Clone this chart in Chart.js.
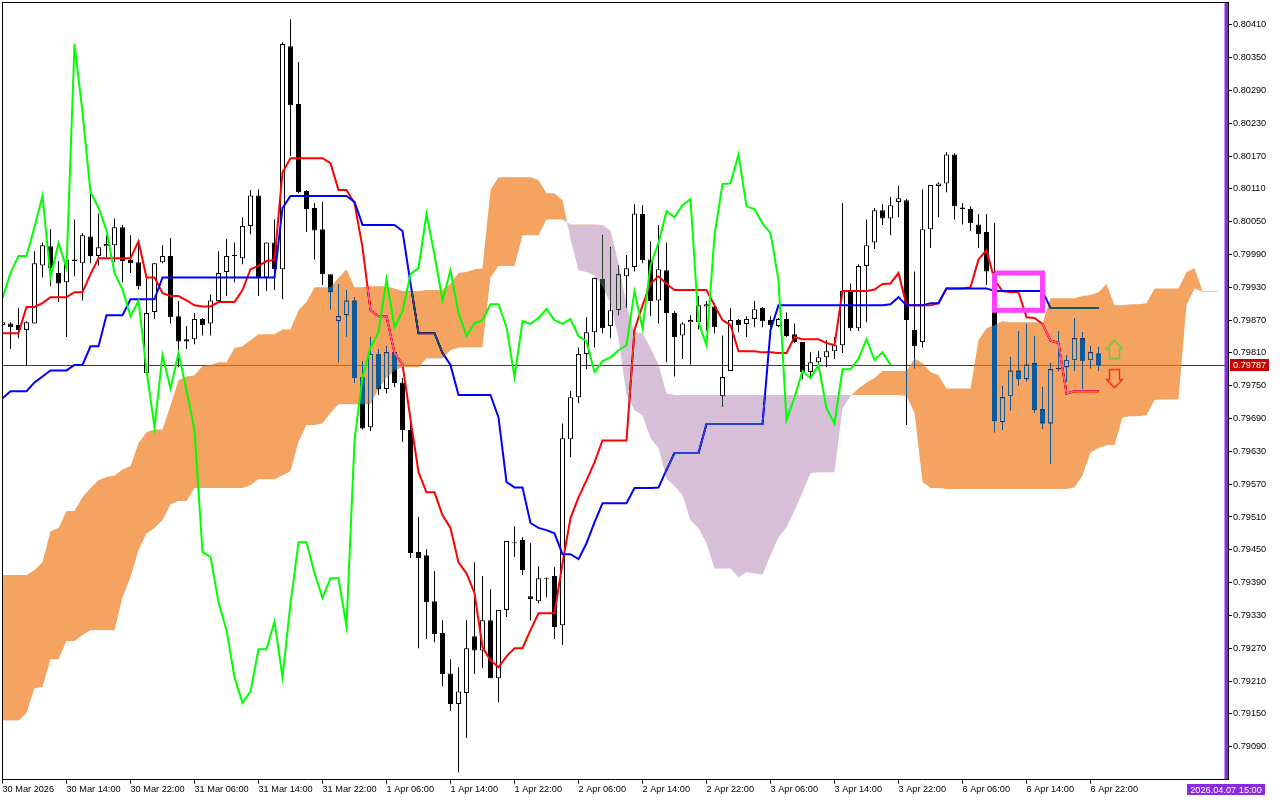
<!DOCTYPE html>
<html>
<head>
<meta charset="utf-8">
<title>Ichimoku chart</title>
<style>
html, body { margin: 0; padding: 0; background: #fff; }
canvas { display: block; }
</style>
<script src="https://cdn.jsdelivr.net/npm/chart.js@4"></script>
</head>
<body>
<canvas id="myChart" width="1280" height="800"></canvas>
<script>
// one label every 8 hourly bars
const xTickLabels = ["30 Mar 2026","30 Mar 14:00","30 Mar 22:00","31 Mar 06:00","31 Mar 14:00","31 Mar 22:00","1 Apr 06:00","1 Apr 14:00","1 Apr 22:00","2 Apr 06:00","2 Apr 14:00","2 Apr 22:00","3 Apr 06:00","3 Apr 14:00","3 Apr 22:00","6 Apr 06:00","6 Apr 14:00","6 Apr 22:00"];
const yTickLabels = ["0.79090","0.79150","0.79210","0.79270","0.79330","0.79390","0.79450","0.79510","0.79570","0.79630","0.79690","0.79750","0.79810","0.79870","0.79930","0.79990","0.80050","0.80110","0.80170","0.80230","0.80290","0.80350","0.80410"];

const opens = [
0.79861,0.79864,0.79861,0.79852,0.79864,0.79970,0.80005,0.79956,0.79939,0.79981,
0.79974,0.80023,0.79987,0.80005,0.80007,0.80040,0.79980,0.79976,0.79773,0.79885,
0.79976,0.79987,0.79877,0.79835,0.79835,0.79872,0.79864,0.79905,0.79958,0.79989,
0.79983,0.80042,0.80098,0.79948,0.80012,0.79963,0.80371,0.80265,0.80106,0.80075,
0.80036,0.79954,0.79868,0.79879,0.79906,0.79766,0.79674,0.79808,0.79744,0.79811,
0.79756,0.79669,0.79446,0.79440,0.79356,0.79298,0.79224,0.79168,0.79188,0.79292,
0.79266,0.79321,0.79215,0.79340,0.79462,0.79468,0.79365,0.79356,0.79398,0.79402,
0.79312,0.79652,0.79729,0.79808,0.79848,0.79945,0.79859,0.79888,0.79950,0.79967,
0.80064,0.79981,0.79906,0.79961,0.79883,0.79842,0.79866,0.79866,0.79895,0.79895,
0.79731,0.79777,0.79870,0.79863,0.79872,0.79892,0.79870,0.79859,0.79872,0.79844,
0.79830,0.79775,0.79793,0.79802,0.79813,0.79824,0.79923,0.79855,0.79969,0.80012,
0.80071,0.80056,0.80086,0.80089,0.79852,0.79830,0.80036,0.80115,0.80120,0.80173,
0.80076,0.80073,0.80045,0.80031,0.79959,0.79683,0.79731,0.79778,0.79762,0.79791,
0.79707,0.79681,0.79782,0.79784,0.79797,0.79837,0.79797,0.79809];
const highs = [
0.79866,0.79866,0.79892,0.79868,0.79996,0.80012,0.80036,0.79978,0.79981,0.80054,
0.80029,0.80102,0.80065,0.80025,0.80056,0.80044,0.80025,0.80016,0.79950,0.79974,
0.80007,0.80020,0.79905,0.79859,0.79883,0.79874,0.79917,0.79996,0.80018,0.80012,
0.80058,0.80108,0.80109,0.80012,0.80054,0.80378,0.80420,0.80342,0.80108,0.80084,
0.80086,0.79954,0.79936,0.79925,0.79912,0.79795,0.79839,0.79817,0.79822,0.79811,
0.79764,0.79696,0.79510,0.79451,0.79411,0.79321,0.79250,0.79235,0.79321,0.79427,
0.79402,0.79378,0.79340,0.79466,0.79493,0.79473,0.79462,0.79420,0.79400,0.79418,
0.79681,0.79740,0.79820,0.79875,0.79948,0.80025,0.80003,0.79970,0.79989,0.80082,
0.80080,0.80014,0.80044,0.80012,0.79886,0.79866,0.79879,0.79914,0.79905,0.79901,
0.79842,0.79892,0.79872,0.79877,0.79905,0.79894,0.79877,0.79874,0.79884,0.79864,
0.79830,0.79811,0.79813,0.79833,0.79839,0.80084,0.79937,0.79972,0.80054,0.80075,
0.80082,0.80095,0.80115,0.80091,0.79959,0.80109,0.80117,0.80122,0.80177,0.80175,
0.80084,0.80078,0.80064,0.80064,0.80047,0.79749,0.79802,0.79850,0.79863,0.79841,
0.79747,0.79791,0.79850,0.79806,0.79874,0.79848,0.79822,0.79820];
const lows = [
0.79861,0.79817,0.79837,0.79786,0.79864,0.79948,0.79932,0.79903,0.79839,0.79950,
0.79906,0.79974,0.79970,0.79985,0.79976,0.79939,0.79956,0.79926,0.79771,0.79872,
0.79974,0.79864,0.79784,0.79817,0.79826,0.79842,0.79842,0.79903,0.79914,0.79939,
0.79972,0.80027,0.79914,0.79923,0.79925,0.79908,0.80170,0.80102,0.80031,0.79981,
0.79934,0.79890,0.79793,0.79839,0.79755,0.79670,0.79667,0.79733,0.79736,0.79747,
0.79647,0.79435,0.79270,0.79287,0.79281,0.79201,0.79155,0.79043,0.79106,0.79223,
0.79234,0.79215,0.79171,0.79327,0.79437,0.79404,0.79321,0.79352,0.79363,0.79287,
0.79276,0.79619,0.79718,0.79780,0.79820,0.79846,0.79837,0.79879,0.79892,0.79959,
0.79974,0.79877,0.79864,0.79793,0.79767,0.79799,0.79789,0.79853,0.79850,0.79846,
0.79711,0.79777,0.79848,0.79839,0.79857,0.79857,0.79857,0.79857,0.79839,0.79828,
0.79762,0.79766,0.79782,0.79784,0.79799,0.79810,0.79850,0.79850,0.79866,0.80000,
0.80044,0.80025,0.80058,0.79678,0.79782,0.79820,0.80002,0.80058,0.80104,0.80054,
0.80045,0.80033,0.80002,0.79934,0.79665,0.79669,0.79705,0.79751,0.79758,0.79700,
0.79672,0.79608,0.79778,0.79758,0.79777,0.79744,0.79782,0.79778];
const closes = [
0.79866,0.79857,0.79852,0.79866,0.79974,0.80007,0.79965,0.79937,0.79981,0.79978,
0.80025,0.79987,0.80003,0.80009,0.80040,0.79978,0.79974,0.79932,0.79883,0.79974,
0.79987,0.79875,0.79831,0.79831,0.79872,0.79861,0.79906,0.79956,0.79987,0.79987,
0.80042,0.80098,0.79948,0.80012,0.79963,0.80375,0.80263,0.80104,0.80073,0.80034,
0.79954,0.79921,0.79877,0.79906,0.79764,0.79672,0.79808,0.79744,0.79811,0.79755,
0.79669,0.79444,0.79435,0.79354,0.79296,0.79223,0.79168,0.79191,0.79270,0.79266,
0.79321,0.79215,0.79340,0.79466,0.79464,0.79413,0.79360,0.79398,0.79396,0.79309,
0.79654,0.79729,0.79808,0.79848,0.79947,0.79855,0.79888,0.79954,0.79965,0.80065,
0.79980,0.79905,0.79963,0.79883,0.79839,0.79864,0.79870,0.79897,0.79899,0.79857,
0.79766,0.79870,0.79861,0.79872,0.79890,0.79868,0.79861,0.79872,0.79841,0.79830,
0.79775,0.79793,0.79802,0.79813,0.79824,0.79923,0.79855,0.79969,0.80007,0.80071,
0.80056,0.80080,0.80093,0.79870,0.79822,0.80036,0.80117,0.80120,0.80173,0.80078,
0.80073,0.80047,0.80027,0.79959,0.79685,0.79729,0.79778,0.79762,0.79789,0.79705,
0.79681,0.79780,0.79780,0.79797,0.79837,0.79795,0.79811,0.79787];

const tenkan = [
0.79846,0.79846,0.79846,0.79894,0.79894,0.79901,0.79912,0.79912,0.79912,0.79921,
0.79921,0.79954,0.79983,0.79983,0.79983,0.79983,0.79983,0.80014,0.79948,0.79948,
0.79919,0.79914,0.79914,0.79906,0.79897,0.79895,0.79895,0.79903,0.79903,0.79903,
0.79925,0.79963,0.79969,0.79978,0.79980,0.80140,0.80166,0.80166,0.80166,0.80166,
0.80166,0.80157,0.80108,0.80108,0.80084,0.80003,0.79888,0.79877,0.79877,0.79810,
0.79789,0.79689,0.79592,0.79555,0.79555,0.79513,0.79490,0.79427,0.79407,0.79371,
0.79272,0.79248,0.79235,0.79255,0.79270,0.79270,0.79303,0.79334,0.79334,0.79334,
0.79425,0.79508,0.79546,0.79577,0.79610,0.79650,0.79650,0.79650,0.79650,0.79852,
0.79897,0.79937,0.79950,0.79936,0.79925,0.79925,0.79925,0.79925,0.79925,0.79897,
0.79870,0.79861,0.79813,0.79813,0.79813,0.79811,0.79811,0.79810,0.79810,0.79839,
0.79835,0.79835,0.79835,0.79828,0.79824,0.79923,0.79923,0.79923,0.79923,0.79926,
0.79936,0.79937,0.79956,0.79897,0.79897,0.79897,0.79897,0.79901,0.79928,0.79928,
0.79928,0.79930,0.79981,0.79998,0.79943,0.79923,0.79921,0.79921,0.79875,0.79874,
0.79863,0.79833,0.79828,0.79736,0.79740,0.79740,0.79740,0.79740];
const kijun = [
0.79727,0.79740,0.79740,0.79740,0.79756,0.79767,0.79778,0.79778,0.79778,0.79788,
0.79788,0.79822,0.79822,0.79879,0.79879,0.79879,0.79908,0.79908,0.79908,0.79908,
0.79948,0.79948,0.79948,0.79948,0.79948,0.79948,0.79948,0.79948,0.79948,0.79948,
0.79948,0.79948,0.79948,0.79948,0.79948,0.80075,0.80097,0.80097,0.80097,0.80097,
0.80097,0.80097,0.80097,0.80097,0.80086,0.80044,0.80044,0.80044,0.80044,0.80044,
0.80033,0.79937,0.79846,0.79846,0.79846,0.79810,0.79788,0.79733,0.79733,0.79733,
0.79733,0.79733,0.79692,0.79574,0.79564,0.79564,0.79499,0.79490,0.79486,0.79480,
0.79442,0.79442,0.79433,0.79462,0.79500,0.79535,0.79535,0.79535,0.79535,0.79563,
0.79563,0.79563,0.79564,0.79596,0.79627,0.79627,0.79627,0.79627,0.79680,0.79680,
0.79680,0.79680,0.79680,0.79680,0.79680,0.79680,0.79852,0.79897,0.79897,0.79897,
0.79897,0.79897,0.79897,0.79897,0.79897,0.79897,0.79897,0.79897,0.79897,0.79897,
0.79897,0.79899,0.79912,0.79897,0.79897,0.79897,0.79901,0.79901,0.79928,0.79928,
0.79928,0.79928,0.79928,0.79928,0.79923,0.79923,0.79923,0.79923,0.79923,0.79923,
0.79923,0.79892,0.79892,0.79892,0.79892,0.79892,0.79892,0.79892];
const chikou = [
0.79910,0.79956,0.79987,0.79987,0.80040,0.80097,0.79948,0.80011,0.79965,0.80375,
0.80250,0.80104,0.80076,0.80034,0.79956,0.79926,0.79877,0.79905,0.79778,0.79674,
0.79806,0.79745,0.79810,0.79742,0.79669,0.79446,0.79437,0.79354,0.79303,0.79217,
0.79170,0.79191,0.79268,0.79268,0.79319,0.79217,0.79352,0.79464,0.79464,0.79407,
0.79362,0.79398,0.79398,0.79310,0.79650,0.79766,0.79820,0.79848,0.79945,0.79857,
0.79886,0.79954,0.79965,0.80064,0.79989,0.79906,0.79961,0.79883,0.79841,0.79864,
0.79870,0.79899,0.79899,0.79857,0.79766,0.79868,0.79863,0.79874,0.79890,0.79870,
0.79863,0.79872,0.79841,0.79831,0.79775,0.79795,0.79802,0.79815,0.79824,0.79923,
0.79855,0.79970,0.80011,0.80069,0.80058,0.80080,0.80091,0.79866,0.79824,0.80025,
0.80119,0.80120,0.80173,0.80078,0.80073,0.80047,0.80029,0.79943,0.79687,0.79729,
0.79777,0.79764,0.79788,0.79709,0.79681,0.79780,0.79780,0.79799,0.79835,0.79797,
0.79811,0.79788];
const senkouA = [
0.79404,0.79404,0.79404,0.79404,0.79413,0.79427,0.79484,0.79490,0.79521,0.79521,
0.79546,0.79563,0.79577,0.79583,0.79586,0.79597,0.79603,0.79645,0.79665,0.79670,
0.79670,0.79714,0.79760,0.79767,0.79769,0.79786,0.79788,0.79793,0.79793,0.79819,
0.79822,0.79833,0.79844,0.79844,0.79844,0.79853,0.79853,0.79888,0.79903,0.79930,
0.79930,0.79930,0.79947,0.79963,0.79930,0.79930,0.79932,0.79932,0.79932,0.79928,
0.79923,0.79923,0.79923,0.79925,0.79925,0.79925,0.79937,0.79956,0.79958,0.79963,
0.79965,0.80108,0.80131,0.80131,0.80131,0.80131,0.80131,0.80126,0.80102,0.80102,
0.80089,0.80018,0.79961,0.79958,0.79952,0.79932,0.79901,0.79837,0.79733,0.79705,
0.79696,0.79654,0.79636,0.79581,0.79566,0.79550,0.79504,0.79490,0.79462,0.79416,
0.79416,0.79416,0.79400,0.79409,0.79407,0.79405,0.79440,0.79473,0.79491,0.79522,
0.79555,0.79590,0.79592,0.79592,0.79592,0.79709,0.79731,0.79745,0.79756,0.79764,
0.79777,0.79777,0.79777,0.79777,0.79800,0.79791,0.79775,0.79769,0.79745,0.79745,
0.79745,0.79745,0.79833,0.79855,0.79861,0.79868,0.79866,0.79866,0.79866,0.79866,
0.79864,0.79910,0.79910,0.79910,0.79910,0.79914,0.79916,0.79921,0.79936,0.79897,
0.79897,0.79899,0.79899,0.79901,0.79928,0.79928,0.79928,0.79928,0.79958,0.79965,
0.79923,0.79923,0.79923];
const senkouB = [
0.79138,0.79138,0.79138,0.79151,0.79197,0.79199,0.79250,0.79250,0.79283,0.79283,
0.79294,0.79303,0.79303,0.79303,0.79303,0.79363,0.79400,0.79449,0.79480,0.79490,
0.79504,0.79533,0.79539,0.79539,0.79563,0.79563,0.79563,0.79563,0.79563,0.79563,
0.79563,0.79568,0.79579,0.79579,0.79579,0.79586,0.79594,0.79647,0.79678,0.79678,
0.79681,0.79700,0.79716,0.79716,0.79716,0.79716,0.79716,0.79745,0.79764,0.79778,
0.79784,0.79784,0.79784,0.79800,0.79800,0.79800,0.79815,0.79820,0.79820,0.79820,
0.79820,0.79948,0.79969,0.79969,0.79969,0.80025,0.80025,0.80025,0.80054,0.80054,
0.80054,0.80045,0.80045,0.80045,0.80045,0.80044,0.80034,0.79974,0.79897,0.79848,
0.79846,0.79819,0.79788,0.79736,0.79733,0.79733,0.79733,0.79733,0.79733,0.79733,
0.79733,0.79733,0.79733,0.79733,0.79733,0.79733,0.79733,0.79733,0.79733,0.79733,
0.79733,0.79733,0.79733,0.79733,0.79733,0.79733,0.79733,0.79733,0.79733,0.79733,
0.79733,0.79733,0.79733,0.79731,0.79700,0.79574,0.79563,0.79563,0.79561,0.79561,
0.79561,0.79561,0.79561,0.79561,0.79561,0.79561,0.79561,0.79561,0.79561,0.79561,
0.79561,0.79561,0.79561,0.79561,0.79564,0.79586,0.79628,0.79636,0.79641,0.79641,
0.79692,0.79694,0.79694,0.79696,0.79724,0.79725,0.79725,0.79725,0.79897,0.79928,
0.79922,0.79922,0.79922];

const currentPrice = 0.79787;
const currentLabel = "0.79787";
const markerBar = 153;
const markerLabel = "2026.04.07 15:00";
const boxBars = [124, 130];
const boxPrices = [0.79956, 0.79888];
const arrowBar = 139;
const arrowUpPrice = 0.79816;
const arrowDownPrice = 0.79763;

const yMin = 0.7902994;
const yMax = 0.8045078;
const xMax = 153.1875;
const tickFont = { family: "'Liberation Sans', sans-serif", size: 9.2 };

function series(values) {
    return values.map((v, i) => ({ x: i, y: v }));
}

function lineSet(label, values, color, order) {
    return { type: 'line', label: label, data: series(values), borderColor: color, borderWidth: 2,
        pointRadius: 0, tension: 0, fill: false, order: order };
}

function makeArrow(up, color) {
    const c = document.createElement('canvas');
    c.width = 19;
    c.height = 21;
    const g = c.getContext('2d');
    if (!up) {
        g.translate(0, 21);
        g.scale(1, -1);
    }
    g.strokeStyle = color;
    g.lineWidth = 1.4;
    g.beginPath();
    g.moveTo(9.5, 1.5);
    g.lineTo(17.5, 9.5);
    g.lineTo(14.5, 9.5);
    g.lineTo(14.5, 19.5);
    g.lineTo(4.5, 19.5);
    g.lineTo(4.5, 9.5);
    g.lineTo(1.5, 9.5);
    g.closePath();
    g.stroke();
    return c;
}

const wicks = { type: 'bar', label: 'wicks', data: highs.map((h, i) => ({ x: i, y: [lows[i], h] })),
    backgroundColor: '#000', barThickness: 1, grouped: false, borderWidth: 0, inflateAmount: 0, order: 80 };
const bodies = { type: 'bar', label: 'bodies', data: opens.map((o, i) => ({ x: i, y: [o, closes[i]] })),
    backgroundColor: opens.map((o, i) => closes[i] >= o ? '#fff' : '#000'), borderColor: '#000',
    borderWidth: 1, borderSkipped: false, barThickness: 5, grouped: false, inflateAmount: 0, order: 70 };
const priceLine = lineSet('price', [], '#c00000', 90);
priceLine.data = [{ x: 0, y: currentPrice }, { x: xMax, y: currentPrice }];
priceLine.borderWidth = 1;

const spanB = lineSet('Senkou B', senkouB, 'rgba(0,0,0,0)', 45);
const spanA = lineSet('Senkou A', senkouA, 'rgba(0,0,0,0)', 40);
const box = lineSet('box', [], '#ff40ff', 20);
box.data = [
    { x: boxBars[0], y: boxPrices[0] }, { x: boxBars[1], y: boxPrices[0] },
    { x: boxBars[1], y: boxPrices[1] }, { x: boxBars[0], y: boxPrices[1] },
    { x: boxBars[0], y: boxPrices[0] }
];
box.borderWidth = 5;
box.borderJoinStyle = 'miter';
const arrowUp = { type: 'line', label: 'up', data: [{ x: arrowBar, y: arrowUpPrice }], showLine: false,
    pointStyle: makeArrow(true, '#66cc33'), pointRadius: 10, order: 10 };
const arrowDown = { type: 'line', label: 'down', data: [{ x: arrowBar, y: arrowDownPrice }], showLine: false,
    pointStyle: makeArrow(false, '#ff2a10'), pointRadius: 10, order: 10 };
const marker = { type: 'bar', label: 'marker', data: [{ x: markerBar, y: [yMin, yMax] }],
    backgroundColor: '#8a2be2', barThickness: 4, grouped: false, borderWidth: 0, inflateAmount: 0, order: 5 };

const datasets = [priceLine, wicks, bodies, lineSet('Tenkan', tenkan, '#ff0000', 60),
    lineSet('Kijun', kijun, '#0000ff', 50), spanB, spanA, lineSet('Chikou', chikou, '#00ff00', 30),
    box, arrowUp, arrowDown, marker];
// cloud colours are the inverse of the visible ones, they get painted in difference mode
spanA.fill = { target: datasets.indexOf(spanB), above: '#0b5b9f', below: '#274027' };

const chartPlugin = {
    id: 'terminalLook',
    beforeDraw(chart) {
        chart.ctx.save();
        chart.ctx.fillStyle = '#fff';
        chart.ctx.fillRect(0, 0, chart.width, chart.height);
        chart.ctx.restore();
    },
    afterDatasetDraw(chart, args) {
        const label = chart.data.datasets[args.index].label;
        if (label === 'Senkou B') chart.ctx.globalCompositeOperation = 'difference';
        if (label === 'Senkou A') chart.ctx.globalCompositeOperation = 'source-over';
    },
    afterDraw(chart) {
        const ctx = chart.ctx;
        const area = chart.chartArea;
        const y = chart.scales.y.getPixelForValue(currentPrice);
        const x = chart.scales.x.getPixelForValue(markerBar);
        ctx.save();
        ctx.fillStyle = '#000';
        ctx.fillRect(2, 2, 1, area.bottom - 2);
        ctx.fillRect(2, 2, area.right - 2, 1);
        ctx.font = "9.2px 'Liberation Sans', sans-serif";
        ctx.textBaseline = 'middle';
        ctx.fillStyle = '#c80000';
        ctx.fillRect(1230, Math.round(y) - 6, 39, 12);
        ctx.fillStyle = '#fff';
        ctx.textAlign = 'left';
        ctx.fillText(currentLabel, 1233, Math.round(y));
        ctx.fillStyle = '#8a2be2';
        ctx.fillRect(1187, 784, 78, 11);
        ctx.fillStyle = '#fff';
        ctx.textAlign = 'center';
        ctx.fillText(markerLabel, x - 0.5, 790);
        ctx.restore();
    }
};

const myChart = new Chart(document.getElementById('myChart').getContext('2d'), {
    type: 'line',
    data: { datasets: datasets },
    plugins: [chartPlugin],
    options: {
        responsive: false,
        animation: false,
        events: [],
        layout: { autoPadding: false, padding: { left: 2.5, top: 2.5, right: 0, bottom: 0 } },
        plugins: { legend: { display: false }, tooltip: { enabled: false } },
        scales: {
            x: {
                type: 'linear',
                min: 0,
                max: xMax,
                offset: false,
                grid: { offset: false, drawOnChartArea: false, color: '#000', tickLength: 4 },
                border: { display: true, color: '#000' },
                ticks: {
                    autoSkip: false, maxRotation: 0, minRotation: 0, align: 'start', padding: 0,
                    color: '#000', font: tickFont,
                    callback: v => xTickLabels[v / 8]
                },
                afterBuildTicks: s => { s.ticks = xTickLabels.map((t, k) => ({ value: k * 8 })); },
                afterFit: s => { s.height = 20.5; s.paddingLeft = 0; s.paddingRight = 0; }
            },
            y: {
                type: 'linear',
                position: 'right',
                min: yMin,
                max: yMax,
                beginAtZero: false,
                grid: { drawOnChartArea: false, color: '#000', tickLength: 4 },
                border: { display: true, color: '#000' },
                ticks: {
                    autoSkip: false, padding: 1, color: '#000', font: tickFont,
                    callback: v => v.toFixed(5)
                },
                afterBuildTicks: s => { s.ticks = yTickLabels.map(t => ({ value: Number(t) })); },
                afterFit: s => { s.width = 52; s.paddingTop = 0; s.paddingBottom = 0; }
            }
        }
    }
});
</script>
</body>
</html>
